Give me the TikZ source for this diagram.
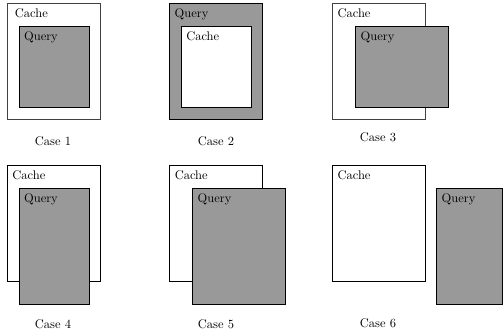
\documentclass[tikz,border=0pt]{standalone}
\usetikzlibrary{positioning, calc}

\begin{document}
\begin{tikzpicture}[
    x=0.8pt, y=-0.8pt,
    cache/.style={rectangle, draw=black!75, line width=0.6pt, fill=white, inner sep=0pt},
    query/.style={rectangle, draw=black, line width=0.8pt, fill=black!40, inner sep=0pt},
    tall/.style={minimum width=74.4pt, minimum height=92.8pt},
    tag/.style={anchor=base west, inner sep=0pt, font=\normalsize},
    caption/.style={font=\normalsize}
]
\useasboundingbox (0,0) rectangle (503,335);

% Case 1: query inside cache
\node[cache, tall] (c1) at (53.7, 61) {};
\node[query, minimum width=56pt, minimum height=64.8pt] (q1) at (54, 66.5) {};
\node[tag] (c1t) at ([shift={(6.3pt,-11.8pt)}]c1.north west) {Cache};
\node[tag] (q1t) at ([shift={(4.3pt,-11.8pt)}]q1.north west) {Query};
\node[caption] (k1) at (53, 141) {Case 1};

% Case 2: cache inside query
\node[query, tall] (q2) at (216, 61) {};
\node[cache, draw=black, minimum width=56pt, minimum height=64.8pt] (c2) at (216, 66.5) {};
\node[tag] (q2t) at ([shift={(4.3pt,-11.8pt)}]q2.north west) {Query};
\node[tag] (c2t) at ([shift={(4.3pt,-11.8pt)}]c2.north west) {Cache};
\node[caption] (k2) at (216, 141) {Case 2};

% Case 3: query sticks out to the right
\node[cache, tall] (c3) at (378.8, 61) {};
\node[query, minimum width=74.4pt, minimum height=64.8pt] (q3) at (402, 66.5) {};
\node[tag] (c3t) at ([shift={(4.3pt,-11.8pt)}]c3.north west) {Cache};
\node[tag] (q3t) at ([shift={(4.3pt,-11.8pt)}]q3.north west) {Query};
\node[caption] (k3) at (378, 137) {Case 3};

% Case 4: query sticks out below
\node[cache, draw=black, tall] (c4) at (53.7, 223) {};
\node[query, minimum width=56pt, minimum height=92.8pt] (q4) at (54, 246.5) {};
\node[tag] (c4t) at ([shift={(4.3pt,-11.8pt)}]c4.north west) {Cache};
\node[tag] (q4t) at ([shift={(4.3pt,-11.8pt)}]q4.north west) {Query};
\node[caption] (k4) at (53, 324) {Case 4};

% Case 5: query shifted right and down
\node[cache, draw=black, tall] (c5) at (216, 223) {};
\node[query, tall] (q5) at (239, 246.5) {};
\node[tag] (c5t) at ([shift={(4.3pt,-11.8pt)}]c5.north west) {Cache};
\node[tag] (q5t) at ([shift={(4.3pt,-11.8pt)}]q5.north west) {Query};
\node[caption] (k5) at (216, 324) {Case 5};

% Case 6: no overlap
\node[cache, draw=black, tall] (c6) at (378.8, 223) {};
\node[query, minimum width=52.8pt, minimum height=92.8pt] (q6) at (469.6, 246.5) {};
\node[tag] (c6t) at ([shift={(4.3pt,-11.8pt)}]c6.north west) {Cache};
\node[tag] (q6t) at ([shift={(4.3pt,-11.8pt)}]q6.north west) {Query};
\node[caption] (k6) at (378, 323) {Case 6};

\end{tikzpicture}
\end{document}
